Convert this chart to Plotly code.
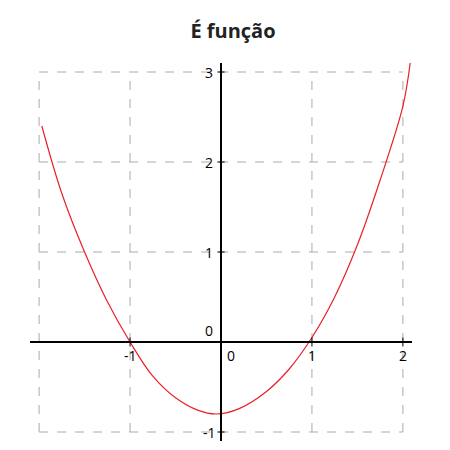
import plotly.graph_objects as go

# points
curve_x = [-1.97, -1.75, -1.5, -1.25, -1.0, -0.75, -0.5, -0.25, -0.05, 0.2, 0.5, 0.75, 1.0, 1.25, 1.5, 1.75, 2.0, 2.08]
curve_y = [2.4, 1.65, 1.0, 0.45, 0.0, -0.38, -0.62, -0.76, -0.8, -0.74, -0.55, -0.3, 0.05, 0.5, 1.08, 1.8, 2.62, 3.1]

grid_x = [-2, -1, 1, 2]
grid_y = [-1, 1, 2, 3]
x_labels = [-1, 1, 2]
y_labels = [3, 2, 1, 0, -1]

fig = go.Figure()

# dashed grid, bounded by the frame
for v in grid_x:
    fig.add_shape(type="line", x0=v, x1=v, y0=-1, y1=3, line=dict(color="#aaaaaa", width=1, dash="dash"), layer="below")
for v in grid_y:
    fig.add_shape(type="line", x0=-2, x1=2, y0=v, y1=v, line=dict(color="#aaaaaa", width=1, dash="dash"), layer="below")

fig.add_trace(go.Scatter(x=curve_x, y=curve_y, mode="lines", line=dict(color="#e8202a", width=1.2, shape="spline")))

# axes through the origin
fig.add_shape(type="line", x0=-2.1, x1=2.1, y0=0, y1=0, line=dict(color="black", width=2))
fig.add_shape(type="line", x0=0, x1=0, y0=-1.1, y1=3.1, line=dict(color="black", width=2))

for v in x_labels:
    fig.add_annotation(x=v, y=0, text=str(v), showarrow=False, yshift=-13, font=dict(size=14, color="black"))
    fig.add_shape(type="line", x0=v, x1=v, y0=-0.05, y1=0.05, line=dict(color="black", width=1))
for v in y_labels:
    fig.add_annotation(x=0, y=v, text=str(v), showarrow=False, xshift=-12, yshift=12 if v == 0 else 0,
                       font=dict(size=14, color="black"))
    fig.add_shape(type="line", x0=-0.04, x1=0.04, y0=v, y1=v, line=dict(color="black", width=1))
fig.add_annotation(x=0, y=0, text="0", showarrow=False, xshift=10, yshift=-13, font=dict(size=14, color="black"))

fig.update_xaxes(range=[-2.1, 2.1], showticklabels=False, showgrid=False, zeroline=False, showline=False)
fig.update_yaxes(range=[-1.1, 3.1], showticklabels=False, showgrid=False, zeroline=False, showline=False)

fig.update_layout(
    width=450, height=450,
    title=dict(text="<b>É função</b>", x=0.5, xanchor="center", y=0.965, font=dict(size=20, color="#222")),
    font=dict(family="Open Sans"),
    plot_bgcolor="white", paper_bgcolor="white",
    showlegend=False,
    margin=dict(l=22, r=46, t=55, b=17),
)
fig.write_html("out.html")
